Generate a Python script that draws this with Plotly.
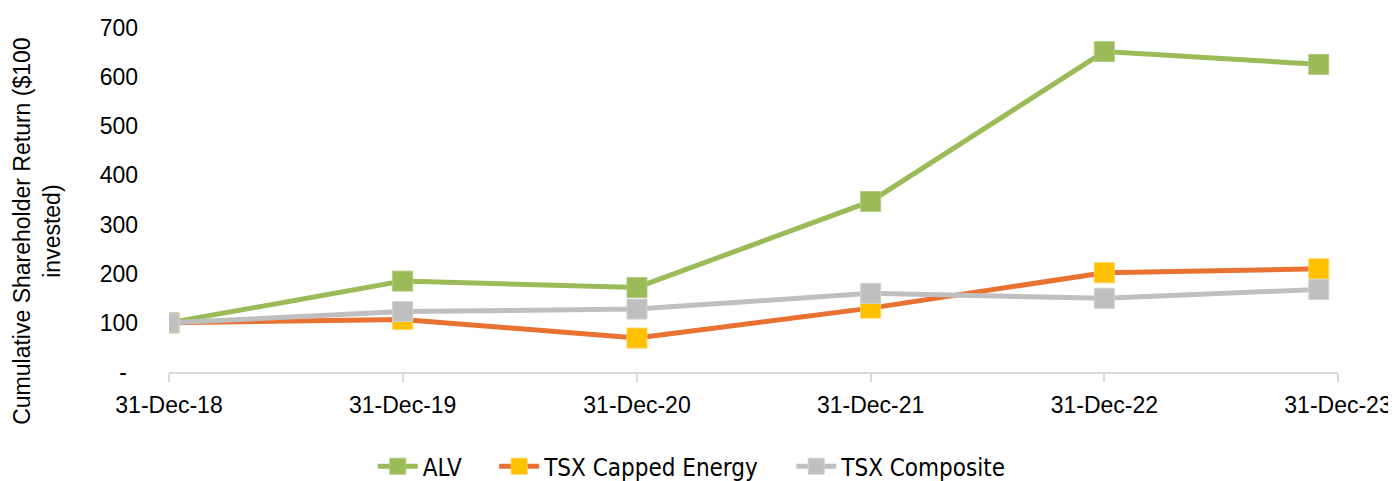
import plotly.graph_objects as go

dates = ["2018-12-31", "2019-12-31", "2020-12-31", "2021-12-31", "2022-12-31", "2023-12-01"]
alv = [100, 185, 172, 347, 652, 626]
tsx_energy = [100, 107, 69, 130, 202, 210]
tsx_composite = [100, 123, 128, 160, 150, 168]

tick_dates = ["2018-12-31", "2019-12-31", "2020-12-31", "2021-12-31", "2022-12-31", "2023-12-31"]
tick_labels = ["31-Dec-18", "31-Dec-19", "31-Dec-20", "31-Dec-21", "31-Dec-22", "31-Dec-23"]
y_ticks = [0, 100, 200, 300, 400, 500, 600, 700]
y_labels = ["-\u00a0\u2009", "100", "200", "300", "400", "500", "600", "700"]

pad = "\u00a0" * 4
series = [
    ("ALV", alv, "#9BBB59", "#9BBB59", "#AFCB7A", pad),
    ("TSX Capped Energy", tsx_energy, "#E97132", "#FFC000", "#FFD34D", pad),
    ("TSX Composite", tsx_composite, "#BFBFBF", "#BFBFBF", "#D0D0D0", ""),
]

fig = go.Figure()
for name, vals, lc, mc, mlc, p in series:
    fig.add_trace(go.Scatter(
        x=dates, y=vals, name=name + p, mode="lines+markers",
        line=dict(color=lc, width=5),
        marker=dict(symbol="square", size=20, color=mc, line=dict(color=mlc, width=1)),
    ))

font_main = "Liberation Sans, Arial, sans-serif"

# page body has an 8px default margin; figure sized so it ends at the window edge
fig.update_layout(
    width=1388, height=473,
    margin=dict(l=161, r=58, t=20, b=109, autoexpand=False),
    paper_bgcolor="white", plot_bgcolor="white",
    font=dict(family=font_main, size=23, color="#000000"),
    showlegend=True,
    legend=dict(
        orientation="h", xref="container", yref="container",
        x=0.493, xanchor="center", y=0.078, yanchor="top",
        font=dict(family="DejaVu Sans Condensed, Liberation Sans Narrow, sans-serif", size=24, color="#000000"),
        itemwidth=40, tracegroupgap=0,
    ),
    xaxis=dict(
        type="date", range=["2018-12-31", "2023-12-31"],
        tickvals=tick_dates, ticktext=tick_labels,
        showgrid=False, zeroline=False, automargin=False,
        showline=True, linecolor="#D9D9D9", linewidth=1.5,
        ticks="outside", ticklen=8, tickcolor="#D9D9D9", tickwidth=1.5,
        ticklabelstandoff=4,
        tickfont=dict(size=23, family=font_main),
    ),
    yaxis=dict(
        range=[0, 700], tickvals=y_ticks, ticktext=y_labels,
        showgrid=False, zeroline=False, showline=False, ticks="", automargin=False,
        ticklabelstandoff=30,
        tickfont=dict(size=23, family=font_main),
    ),
    annotations=[dict(
        text="Cumulative Shareholder Return ($100<br>invested)",
        xref="paper", yref="paper", x=-0.1125, y=0.409,
        xanchor="center", yanchor="middle", textangle=-90, showarrow=False,
        font=dict(family=font_main, size=23, color="#000000"),
    )],
)

fig.write_html("out.html")
